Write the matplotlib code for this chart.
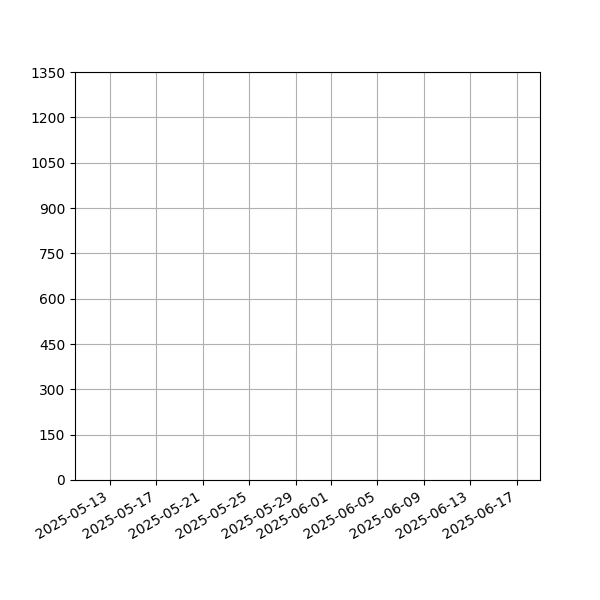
import matplotlib
matplotlib.use("Agg")
import matplotlib.pyplot as plt
import matplotlib.dates as mdates
import numpy as np
import datetime as dt

# Data (chart shows no visible marks)
x_start = dt.datetime(2025, 5, 10)
x_end = dt.datetime(2025, 6, 19)
y_ticks = [0, 150, 300, 450, 600, 750, 900, 1050, 1200, 1350]
tick_dates = ["2025-05-13", "2025-05-17", "2025-05-21", "2025-05-25", "2025-05-29",
              "2025-06-01", "2025-06-05", "2025-06-09", "2025-06-13", "2025-06-17"]

fig, ax = plt.subplots(figsize=(6, 6), dpi=100)
ax.set_xlim(x_start, x_end)
ax.set_ylim(y_ticks[0], y_ticks[-1])
ax.set_yticks(y_ticks)
ax.set_xticks([dt.datetime.strptime(d, "%Y-%m-%d") for d in tick_dates])
ax.xaxis.set_major_formatter(mdates.DateFormatter("%Y-%m-%d"))
ax.grid(True, color="#b0b0b0", linewidth=0.8)
ax.set_axisbelow(True)
fig.autofmt_xdate()
fig.savefig("out.png", dpi=100)
